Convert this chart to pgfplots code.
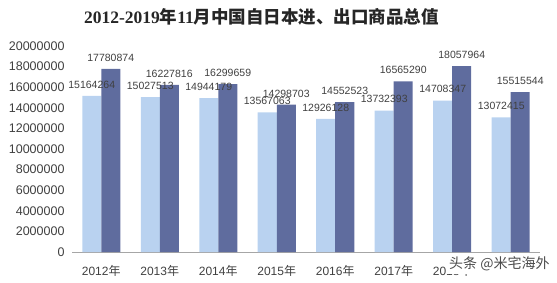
\documentclass[border=0pt]{standalone}
\usepackage{fontspec}
\setmainfont{Liberation Sans}
\newfontfamily\cjk{Noto Sans CJK SC}
\newfontfamily\serifb{Liberation Serif}
\usepackage{pgfplots}
\usepackage{pgfplotstable}
\pgfplotsset{compat=1.18}
\definecolor{lightbar}{HTML}{B9D2F0}
\definecolor{darkbar}{HTML}{5F6C9E}
\definecolor{txt}{HTML}{404040}
\pgfplotstableread{
x y lab
0 15164264 15164264
1 15027513 15027513
2 14944179 14944179
3 13567063 13567063
4 12926128 12926128
5 13732393 13732393
6 14708347 14708347
7 13072415 13072415
}\imports
\pgfplotstableread{
x y lab
0 17780874 17780874
1 16227816 16227816
2 16299659 16299659
3 14298703 14298703
4 14552523 14552523
5 16565290 16565290
6 18057964 18057964
7 15515544 15515544
}\exports
\begin{document}
\begin{tikzpicture}[x=1pt,y=1pt]
\path[use as bounding box] (0,0) rectangle (557,282);
\begin{axis}[
  at={(72pt,30pt)}, anchor=south west,
  scale only axis, width=468pt, height=206pt,
  xmin=-0.5, xmax=7.5, ymin=0, ymax=20000000,
  ybar=0pt, bar width=19pt,
  axis x line*=bottom, axis y line=none,
  x axis line style={draw=gray!70, line width=0.8pt},
  ymajorgrids, grid style={draw=gray!40, line width=0.6pt},
  scaled y ticks=false,
  xtick={0,...,7}, xtick style={draw=none},
  xticklabels={2012{\cjk 年},2013{\cjk 年},2014{\cjk 年},2015{\cjk 年},2016{\cjk 年},2017{\cjk 年},2018{\cjk 年},{}},
  xticklabel style={font=\fontsize{12}{12}\selectfont, text=txt, yshift=-6pt},
  ytick={0,2000000,4000000,6000000,8000000,10000000,12000000,14000000,16000000,18000000,20000000},
  yticklabels={},
  ytick style={draw=none},
  clip=false,
  nodes near coords={\pgfplotspointmeta},
  point meta=explicit symbolic,
  every node near coord/.append style={font=\fontsize{10.5}{10.5}\selectfont, text=txt, anchor=south, yshift=4pt},
]
\addplot[fill=lightbar, draw=none] table[x=x,y=y,meta=lab] {\imports};
\addplot[fill=darkbar, draw=none] table[x=x,y=y,meta=lab] {\exports};
\end{axis}
\begin{axis}[
  at={(72pt,30pt)}, anchor=south west,
  scale only axis, width=468pt, height=206pt,
  xmin=-0.5, xmax=7.5, ymin=0, ymax=20000000,
  axis x line=none, axis y line*=left, y axis line style={draw=none},
  scaled y ticks=false,
  ytick={0,2000000,4000000,6000000,8000000,10000000,12000000,14000000,16000000,18000000,20000000},
  yticklabels={0,2000000,4000000,6000000,8000000,10000000,12000000,14000000,16000000,18000000,20000000},
  ytick style={draw=none},
  yticklabel style={font=\fontsize{12.5}{12.5}\selectfont, text=txt, xshift=-4pt},
]
\addplot[draw=none] coordinates {(0,0)};
\end{axis}
\node[font=\fontsize{17.5}{17.5}\selectfont\bfseries, text=black!85] at (261.5,265) {{\serifb 2012-2019}{\cjk 年}{\serifb 11}{\cjk 月中国自日本进、出口商品总值}};
\node[font=\cjk\fontsize{14}{14}\selectfont, text=black!70, fill=white, inner xsep=2pt, inner ysep=3pt, anchor=west] at (447,18) {头条 @米宅海外};
\end{tikzpicture}
\end{document}
